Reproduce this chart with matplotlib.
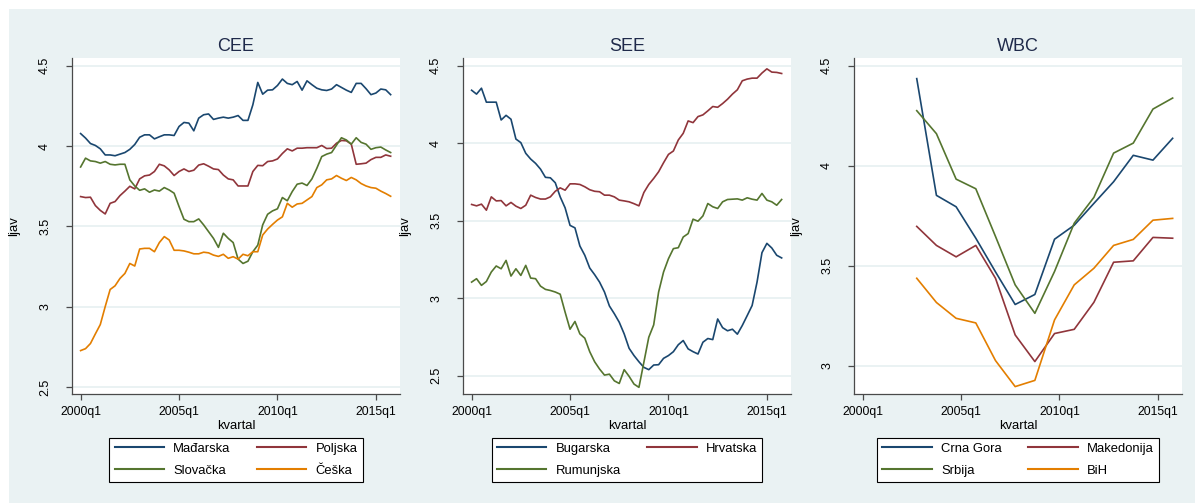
import numpy as np
import matplotlib
matplotlib.use("Agg")
import matplotlib.pyplot as plt
from matplotlib.patches import Rectangle

plt.rcParams['font.family'] = ['Liberation Sans', 'DejaVu Sans']

# quarterly index 0 = 2000q1 ... 63 = 2015q4
quarters = np.arange(64)
# WBC series are annual (q4 values), 2002q4 .. 2015q4
wbc_quarters = np.arange(11, 64, 4)
tick_pos = [0, 20, 40, 60]
tick_labels = ['2000q1', '2005q1', '2010q1', '2015q1']

# CEE
madarska = [4.078, 4.05, 4.016, 4.004, 3.983, 3.945, 3.945, 3.94, 3.95, 3.96,
            3.98, 4.01, 4.055, 4.07, 4.07, 4.045, 4.058, 4.07, 4.07, 4.066,
            4.122, 4.147, 4.143, 4.095, 4.174, 4.195, 4.2, 4.166, 4.174, 4.18,
            4.174, 4.18, 4.19, 4.16, 4.16, 4.257, 4.396, 4.323, 4.348, 4.35,
            4.377, 4.417, 4.39, 4.382, 4.402, 4.348, 4.406, 4.382, 4.36, 4.35,
            4.346, 4.355, 4.382, 4.365, 4.348, 4.334, 4.39, 4.39, 4.357, 4.32,
            4.33, 4.355, 4.35, 4.32]
poljska = [3.686, 3.68, 3.682, 3.63, 3.60, 3.578, 3.644, 3.655, 3.692, 3.72,
           3.75, 3.734, 3.796, 3.815, 3.82, 3.842, 3.887, 3.877, 3.852, 3.817,
           3.842, 3.858, 3.842, 3.85, 3.882, 3.89, 3.875, 3.858, 3.854, 3.82,
           3.796, 3.79, 3.752, 3.752, 3.752, 3.842, 3.88, 3.878, 3.904, 3.908,
           3.92, 3.954, 3.983, 3.97, 3.987, 3.987, 3.99, 3.99, 3.99, 4.004,
           3.985, 3.987, 4.018, 4.035, 4.033, 4.012, 3.887, 3.89, 3.894, 3.916,
           3.93, 3.93, 3.945, 3.937]
slovacka = [3.87, 3.925, 3.908, 3.904, 3.894, 3.904, 3.887, 3.883, 3.887, 3.887,
            3.79, 3.752, 3.725, 3.734, 3.713, 3.727, 3.72, 3.742, 3.727, 3.707,
            3.624, 3.545, 3.53, 3.53, 3.547, 3.51, 3.468, 3.426, 3.37, 3.458,
            3.426, 3.40, 3.297, 3.27, 3.284, 3.343, 3.384, 3.51, 3.576, 3.597,
            3.61, 3.68, 3.66, 3.717, 3.763, 3.77, 3.755, 3.796, 3.862, 3.935,
            3.95, 3.96, 4.006, 4.052, 4.038, 4.012, 4.052, 4.023, 4.012, 3.98,
            3.99, 3.994, 3.976, 3.96]
ceska = [2.728, 2.74, 2.772, 2.832, 2.89, 3.002, 3.108, 3.131, 3.177, 3.208,
         3.27, 3.254, 3.36, 3.364, 3.364, 3.343, 3.40, 3.437, 3.416, 3.352,
         3.352, 3.348, 3.34, 3.33, 3.33, 3.34, 3.336, 3.322, 3.314, 3.327,
         3.302, 3.312, 3.297, 3.327, 3.318, 3.343, 3.343, 3.447, 3.484, 3.513,
         3.54, 3.56, 3.644, 3.62, 3.64, 3.644, 3.665, 3.686, 3.742, 3.759,
         3.79, 3.796, 3.817, 3.80, 3.786, 3.805, 3.79, 3.767, 3.752, 3.742,
         3.738, 3.72, 3.705, 3.688]

# SEE
bugarska = [4.342, 4.317, 4.355, 4.265, 4.265, 4.265, 4.15, 4.18, 4.155, 4.027,
            4.004, 3.935, 3.898, 3.87, 3.833, 3.78, 3.777, 3.745, 3.654, 3.583,
            3.47, 3.454, 3.337, 3.277, 3.195, 3.152, 3.104, 3.04, 2.95, 2.90,
            2.845, 2.77, 2.677, 2.63, 2.59, 2.554, 2.539, 2.569, 2.571, 2.612,
            2.63, 2.655, 2.70, 2.727, 2.673, 2.655, 2.64, 2.716, 2.74, 2.733,
            2.866, 2.81, 2.79, 2.80, 2.768, 2.824, 2.888, 2.953, 3.104, 3.294,
            3.354, 3.324, 3.277, 3.26]
hrvatska = [3.605, 3.596, 3.607, 3.568, 3.654, 3.628, 3.63, 3.596, 3.618, 3.594,
            3.579, 3.60, 3.665, 3.65, 3.64, 3.64, 3.654, 3.69, 3.712, 3.697,
            3.738, 3.738, 3.734, 3.719, 3.70, 3.69, 3.687, 3.665, 3.665, 3.654,
            3.633, 3.628, 3.622, 3.61, 3.596, 3.682, 3.734, 3.773, 3.816, 3.874,
            3.928, 3.95, 4.021, 4.064, 4.144, 4.133, 4.172, 4.183, 4.209, 4.237,
            4.232, 4.256, 4.284, 4.317, 4.345, 4.403, 4.414, 4.42, 4.42, 4.453,
            4.48, 4.459, 4.457, 4.45]
rumunjska = [3.104, 3.126, 3.083, 3.108, 3.169, 3.208, 3.19, 3.244, 3.143, 3.19,
             3.147, 3.212, 3.13, 3.126, 3.078, 3.057, 3.05, 3.04, 3.026, 2.91,
             2.80, 2.85, 2.77, 2.742, 2.655, 2.59, 2.543, 2.504, 2.51, 2.467,
             2.45, 2.539, 2.496, 2.446, 2.425, 2.586, 2.748, 2.828, 3.04, 3.169,
             3.255, 3.32, 3.326, 3.395, 3.417, 3.51, 3.497, 3.531, 3.611, 3.59,
             3.579, 3.622, 3.637, 3.639, 3.641, 3.633, 3.648, 3.639, 3.633, 3.676,
             3.633, 3.622, 3.60, 3.637]

# WBC (annual)
crna_gora = [4.435, 3.852, 3.795, 3.638, 3.47, 3.307, 3.357, 3.633, 3.703, 3.812,
             3.92, 4.052, 4.028, 4.137]
makedonija = [3.697, 3.602, 3.545, 3.602, 3.438, 3.155, 3.022, 3.162, 3.183, 3.318,
              3.518, 3.525, 3.642, 3.638]
srbija = [4.275, 4.16, 3.933, 3.885, 3.647, 3.405, 3.263, 3.472, 3.713, 3.842,
          4.063, 4.113, 4.283, 4.338]
bih = [3.438, 3.317, 3.238, 3.215, 3.027, 2.897, 2.928, 3.23, 3.405, 3.488,
       3.602, 3.632, 3.728, 3.737]

navy = '#1A476F'
maroon = '#90353B'
green = '#55752F'
orange = '#E37E00'
bg = '#EAF2F3'

panels = [
    ('CEE', quarters,
     [('Mađarska', madarska, navy), ('Poljska', poljska, maroon),
      ('Slovačka', slovacka, green), ('Češka', ceska, orange)],
     (2.458, 4.548), [2.5, 3, 3.5, 4, 4.5],
     ['Mađarska', 'Slovačka', 'Poljska', 'Češka']),
    ('SEE', quarters,
     [('Bugarska', bugarska, navy), ('Hrvatska', hrvatska, maroon),
      ('Rumunjska', rumunjska, green)],
     (2.382, 4.55), [2.5, 3, 3.5, 4, 4.5],
     ['Bugarska', 'Rumunjska', 'Hrvatska']),
    ('WBC', wbc_quarters,
     [('Crna Gora', crna_gora, navy), ('Makedonija', makedonija, maroon),
      ('Srbija', srbija, green), ('BiH', bih, orange)],
     (2.86, 4.538), [3, 3.5, 4, 4.5],
     ['Crna Gora', 'Srbija', 'Makedonija', 'BiH']),
]

W, H = 1195, 503
fig = plt.figure(figsize=(W / 100, H / 100), dpi=100, facecolor='white')
fig.patches.append(Rectangle((9 / W, 0), 1, 1 - 9 / H, transform=fig.transFigure,
                             facecolor=bg, edgecolor='none', zorder=-10))

lefts = [72, 463, 854]
for left, (title, xs, series, ylim, yticks, legend_order) in zip(lefts, panels):
    ax = fig.add_axes([left / W, 1 - 394 / H, 328 / W, 336 / H])
    ax.set_facecolor('white')
    lines = {}
    for name, vals, col in series:
        ln, = ax.plot(xs, vals, color=col, lw=1.2, label=name)
        lines[name] = ln
    ax.set_xlim(-1.75, 64.9)
    ax.set_ylim(*ylim)
    ax.set_xticks(tick_pos)
    ax.set_xticklabels(tick_labels, fontsize=8.7)
    ax.set_yticks(yticks)
    ax.set_yticklabels([f'{v:g}' for v in yticks], rotation=90, va='center', fontsize=9)
    ax.yaxis.grid(True, color=bg, lw=1.4)
    ax.set_axisbelow(True)
    for s in ['top', 'right']:
        ax.spines[s].set_visible(False)
    for s in ['left', 'bottom']:
        ax.spines[s].set_color('#4a4a4a')
        ax.spines[s].set_linewidth(0.9)
    ax.tick_params(axis='y', length=4, width=0.9, color='#4a4a4a', pad=11)
    ax.tick_params(axis='x', length=4, width=0.9, color='#4a4a4a', pad=5)
    ax.set_title(title, fontsize=13, color='#1F2A4A', pad=5)
    ax.set_xlabel('kvartal', fontsize=9.4, labelpad=1)
    ax.set_ylabel('ljav', fontsize=9.4, labelpad=14)
    leg = ax.legend([lines[n] for n in legend_order], legend_order, ncol=2,
                    loc='upper center', bbox_to_anchor=(0.5, -0.13), borderaxespad=0,
                    fontsize=9.4, frameon=True, fancybox=False, edgecolor='black',
                    facecolor='white', framealpha=1, handlelength=3.8,
                    handletextpad=0.7, columnspacing=2.0, labelspacing=0.75,
                    borderpad=0.4)
    leg.get_frame().set_linewidth(0.8)
    for h in leg.get_lines():
        h.set_linewidth(1.5)

fig.savefig('out.png', dpi=100, facecolor=fig.get_facecolor())
